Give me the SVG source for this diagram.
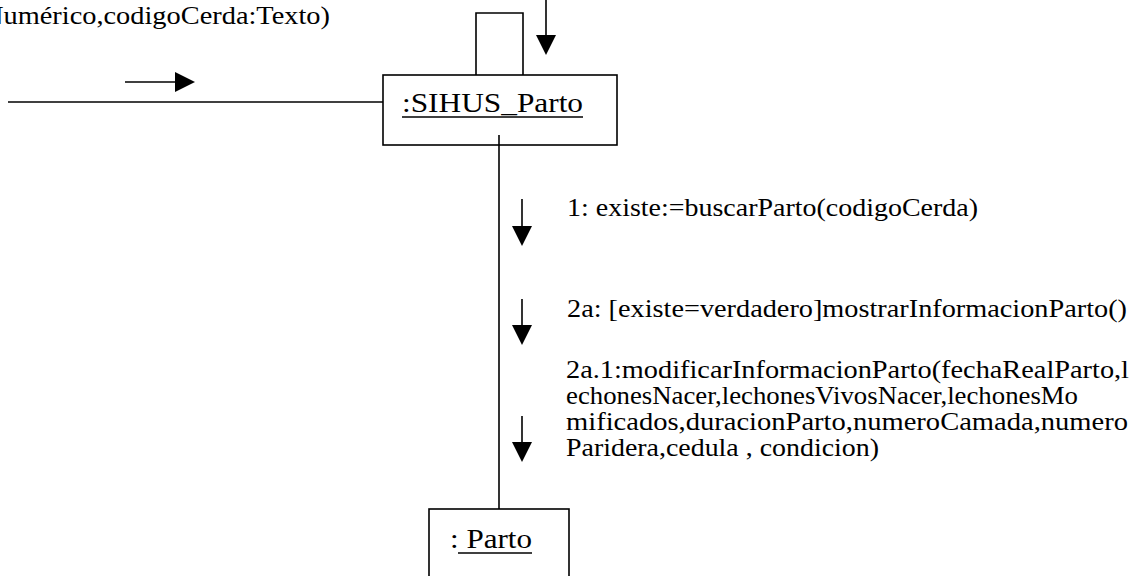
<svg xmlns="http://www.w3.org/2000/svg" width="1140" height="576" viewBox="0 0 1140 576">
<style>
.ln{stroke:#000;stroke-width:1.6;fill:none}
.box{stroke:#000;stroke-width:1.6;fill:#fff}
.t{font-family:'Liberation Serif','Times New Roman',serif;font-size:25px;fill:#000}
.nt{font-family:'Liberation Serif','Times New Roman',serif;font-size:28px;fill:#000}
.ul{stroke:#000;stroke-width:1.4}
</style>
<defs>
<marker id="ah" markerUnits="userSpaceOnUse" markerWidth="20" markerHeight="20" refX="0" refY="10" orient="auto" overflow="visible">
<path d="M0,0 L20,10 L0,20 Z" fill="#000"/>
</marker>
</defs>
<rect width="1140" height="576" fill="#fff"/>
<g id="connectors">
<line class="ln" x1="8" y1="102" x2="383" y2="102"/>
<polyline class="ln" points="476,75 476,13 523,13 523,75"/>
<line class="ln" x1="499" y1="135" x2="499" y2="509"/>
<line class="ln" x1="546" y1="0" x2="546" y2="35" marker-end="url(#ah)"/>
<line class="ln" x1="125" y1="82" x2="175" y2="82" marker-end="url(#ah)"/>
<line class="ln" x1="522" y1="199" x2="522" y2="226" marker-end="url(#ah)"/>
<line class="ln" x1="522" y1="299" x2="522" y2="325" marker-end="url(#ah)"/>
<line class="ln" x1="522" y1="416" x2="522" y2="442" marker-end="url(#ah)"/>
</g>
<g id="labels">
<text class="t" x="-17" y="24" textLength="347" lengthAdjust="spacingAndGlyphs">Numérico,codigoCerda:Texto)</text>
<text class="t" x="567" y="216" textLength="411" lengthAdjust="spacingAndGlyphs">1: existe:=buscarParto(codigoCerda)</text>
<text class="t" x="567" y="317" textLength="560" lengthAdjust="spacingAndGlyphs">2a: [existe=verdadero]mostrarInformacionParto()</text>
<text class="t" x="566" y="378" textLength="563" lengthAdjust="spacingAndGlyphs">2a.1:modificarInformacionParto(fechaRealParto,l</text>
<text class="t" x="566" y="404" textLength="512" lengthAdjust="spacingAndGlyphs">echonesNacer,lechonesVivosNacer,lechonesMo</text>
<text class="t" x="566" y="430" textLength="562" lengthAdjust="spacingAndGlyphs">mificados,duracionParto,numeroCamada,numero</text>
<text class="t" x="566" y="456" textLength="313" lengthAdjust="spacingAndGlyphs">Paridera,cedula , condicion)</text>
</g>
<g id="node-sihus">
<rect class="box" x="383" y="75" width="234" height="70"/>
<line class="ln" x1="499" y1="135" x2="499" y2="145"/>
<text class="nt" x="402" y="112" textLength="181" lengthAdjust="spacingAndGlyphs">:SIHUS_Parto</text>
<line class="ul" x1="402" y1="117" x2="583" y2="117"/>
</g>
<g id="node-parto">
<rect class="box" x="429" y="509" width="140" height="80"/>
<text class="nt" x="450" y="548" textLength="82" lengthAdjust="spacingAndGlyphs">: Parto</text>
<line class="ul" x1="458" y1="553" x2="532" y2="553"/>
</g>
</svg>
